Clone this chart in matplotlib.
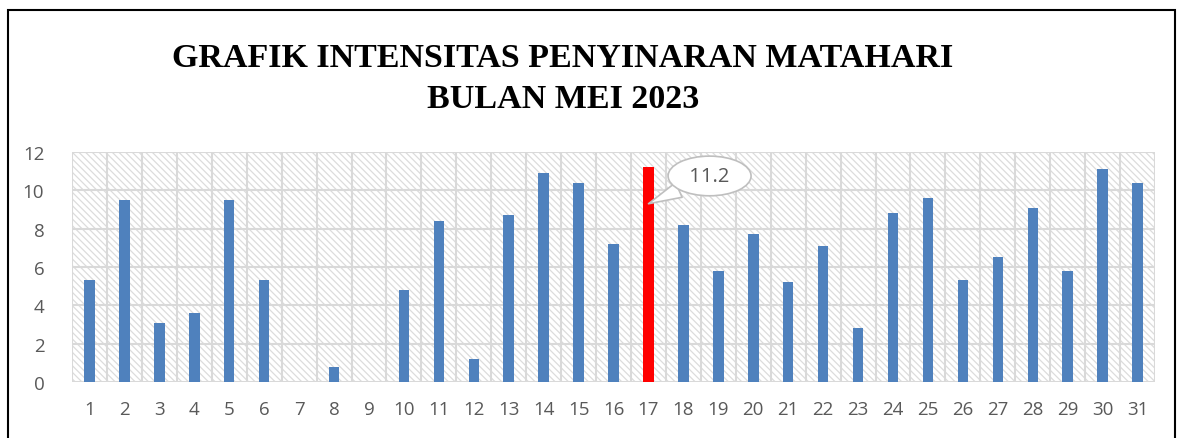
import matplotlib.pyplot as plt
from matplotlib.patches import Rectangle

# data
days = list(range(1, 32))
values = [5.3, 9.5, 3.1, 3.6, 9.5, 5.3, 0.0, 0.8, 0.0, 4.8,
          8.4, 1.2, 8.7, 10.9, 10.4, 7.2, 11.2, 8.2, 5.8, 7.7,
          5.2, 7.1, 2.8, 8.8, 9.6, 5.3, 6.5, 9.1, 5.8, 11.1, 10.4]
highlight_day = 17
title = "GRAFIK INTENSITAS PENYINARAN MATAHARI\nBULAN MEI 2023"

blue = '#4f81bd'
red = '#ff0000'
grid_col = '#d9d9d9'
text_col = '#595959'

plt.rcParams['hatch.linewidth'] = 0.9
plt.rcParams['hatch.color'] = '#dcdcdc'

fig = plt.figure(figsize=(11.81, 4.39), dpi=100)
ax = fig.add_axes([0.061, 0.1276, 0.917, 0.5239])

# outer black frame (bottom cut off in the reference)
frame = Rectangle((8 / 1181, -0.1), (1175 - 8) / 1181, 1 - 11 / 439 + 0.1,
                  transform=fig.transFigure, fill=False, edgecolor='black',
                  linewidth=1.5, zorder=0)
fig.patches.append(frame)

# hatched plot background
ax.add_patch(Rectangle((0, 0), 1, 1, transform=ax.transAxes, facecolor='white',
                       edgecolor='#dcdcdc', hatch='\\' * 5, linewidth=0, zorder=0))

colors = [red if d == highlight_day else blue for d in days]
ax.bar(days, values, width=0.3, color=colors, zorder=3)

ax.set_xlim(0.5, 31.5)
ax.set_ylim(0, 12)
ax.set_xticks(days)
ax.set_yticks(range(0, 13, 2))
# grid lines between categories and at each y tick
for x in [d + 0.5 for d in range(0, 32)]:
    ax.axvline(x, color=grid_col, linewidth=1.5, zorder=1)
for y in range(0, 13, 2):
    ax.axhline(y, color=grid_col, linewidth=1.5, zorder=1)

for s in ax.spines.values():
    s.set_visible(False)
ax.tick_params(length=0, labelsize=13.5, labelcolor=text_col, pad=13)
ax.tick_params(axis='y', pad=20)
for lab in ax.get_xticklabels() + ax.get_yticklabels():
    lab.set_fontfamily('Open Sans')

# callout for the highlighted value
hv = values[days.index(highlight_day)]
ax.annotate(f" {hv} ", xy=(highlight_day, 9.3), xytext=(44, 20),
            textcoords='offset points', ha='center', va='center',
            fontsize=14.5, color=text_col, family='Open Sans',
            bbox=dict(boxstyle='ellipse,pad=0.2', facecolor='white',
                      edgecolor='#bfbfbf', linewidth=1.2),
            arrowprops=dict(arrowstyle='wedge,tail_width=0.8,shrink_factor=0.5',
                            facecolor='white', edgecolor='#bfbfbf',
                            linewidth=1.2, shrinkA=0, shrinkB=0),
            zorder=5)

fig.text(563 / 1181, 1 - 79 / 439, title, ha='center', va='center',
         fontsize=24.5, fontweight='bold', family='Liberation Serif',
         linespacing=1.45)

fig.savefig('out.png', dpi=100)
